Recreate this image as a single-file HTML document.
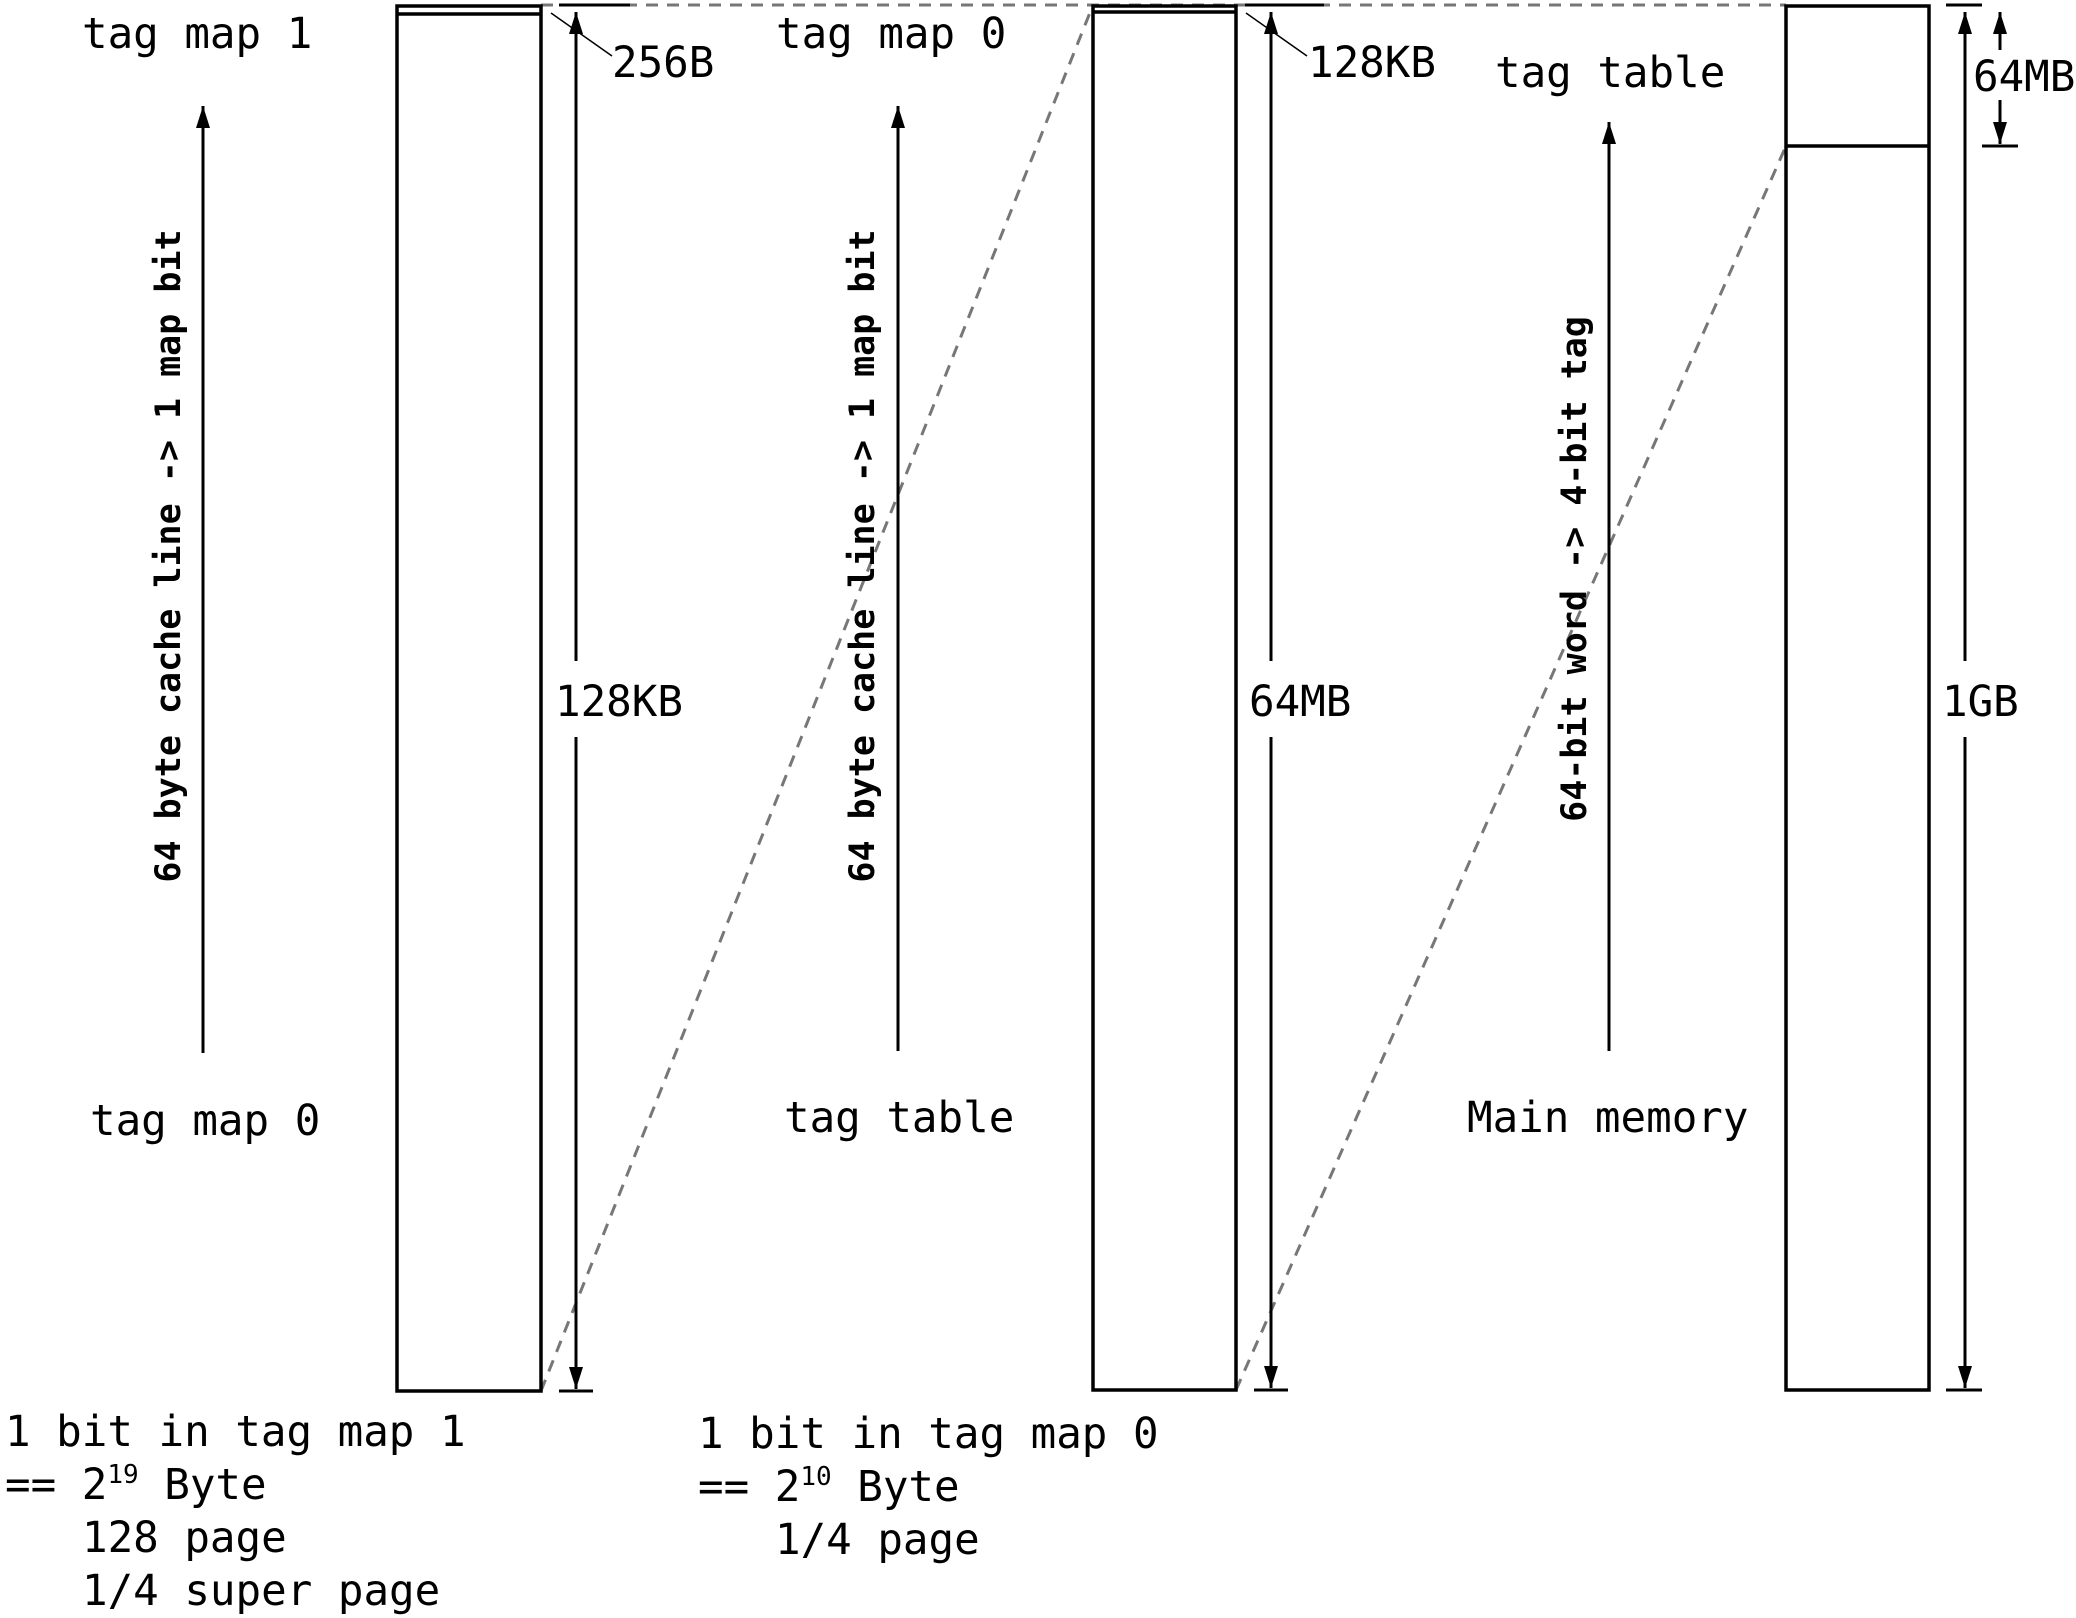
<!DOCTYPE html>
<html><head><meta charset="utf-8">
<style>html,body{margin:0;padding:0;background:#fff}svg{display:block}</style>
</head><body>
<svg width="2076" height="1618" viewBox="0 0 2076 1618" xmlns="http://www.w3.org/2000/svg">
<defs>
<marker id="ab" viewBox="0 0 22 14" markerWidth="22" markerHeight="14" refX="22" refY="7" orient="auto" markerUnits="userSpaceOnUse">
<path d="M0,0 L22,7 L0,14 z" fill="#000"/>
</marker>
</defs>
<g fill="none" stroke="#777" stroke-width="3" stroke-dasharray="12,9">
<line x1="541" y1="5" x2="1786" y2="5"/>
<line x1="541" y1="1391" x2="1093" y2="5"/>
<line x1="1236" y1="1390" x2="1786" y2="146"/>
</g>
<g fill="none" stroke="#000" stroke-width="3.5">
<rect x="397" y="6" width="144" height="1385" fill="#fff"/>
<line x1="397" y1="14" x2="541" y2="14"/>
<rect x="1093" y="6" width="143" height="1384" fill="#fff"/>
<line x1="1093" y1="12" x2="1236" y2="12"/>
<rect x="1786" y="6" width="143" height="1384" fill="#fff"/>
<line x1="1786" y1="146" x2="1929" y2="146"/>
</g>
<g stroke="#000" stroke-width="3">
<line x1="559" y1="5" x2="630" y2="5"/>
<line x1="559" y1="1391" x2="593" y2="1391"/>
<line x1="576" y1="661" x2="576" y2="12" marker-end="url(#ab)"/>
<line x1="576" y1="737" x2="576" y2="1389" marker-end="url(#ab)"/>
<line x1="1245" y1="5" x2="1324" y2="5"/>
<line x1="1254" y1="1390" x2="1288" y2="1390"/>
<line x1="1271" y1="661" x2="1271" y2="12" marker-end="url(#ab)"/>
<line x1="1271" y1="737" x2="1271" y2="1388" marker-end="url(#ab)"/>
<line x1="1946" y1="5" x2="1982" y2="5"/>
<line x1="1946" y1="1390" x2="1982" y2="1390"/>
<line x1="1965" y1="661" x2="1965" y2="12" marker-end="url(#ab)"/>
<line x1="1965" y1="737" x2="1965" y2="1388" marker-end="url(#ab)"/>
<line x1="1982" y1="146" x2="2018" y2="146"/>
<line x1="2000" y1="50" x2="2000" y2="12" marker-end="url(#ab)"/>
<line x1="2000" y1="100" x2="2000" y2="144" marker-end="url(#ab)"/>
<line x1="203" y1="1053" x2="203" y2="106" marker-end="url(#ab)"/>
<line x1="898" y1="1051" x2="898" y2="106" marker-end="url(#ab)"/>
<line x1="1609" y1="1051" x2="1609" y2="122" marker-end="url(#ab)"/>
</g>
<g stroke="#000" stroke-width="1.5">
<line x1="551" y1="13" x2="612" y2="56"/>
<line x1="1246" y1="13" x2="1307" y2="56"/>
</g>
<g font-family="'DejaVu Sans Mono','Liberation Mono',monospace" font-size="42.5" fill="#000">
<text x="82" y="48">tag map 1</text>
<text x="776" y="48">tag map 0</text>
<text x="1495" y="87">tag table</text>
<text x="90" y="1135">tag map 0</text>
<text x="784" y="1132">tag table</text>
<text x="1467" y="1132">Main memory</text>
<text x="612" y="77">256B</text>
<text x="1308" y="77">128KB</text>
<text x="1973" y="91">64MB</text>
<text x="555" y="716">128KB</text>
<text x="1249" y="716">64MB</text>
<text x="1942" y="716">1GB</text>
<text x="5" y="1446">1 bit in tag map 1</text>
<text x="5" y="1499">== 2<tspan font-size="26" dy="-16">19</tspan><tspan dy="16"> Byte</tspan></text>
<text x="82" y="1552">128 page</text>
<text x="82" y="1605">1/4 super page</text>
<text x="698" y="1448">1 bit in tag map 0</text>
<text x="698" y="1501">== 2<tspan font-size="26" dy="-16">10</tspan><tspan dy="16"> Byte</tspan></text>
<text x="775" y="1554">1/4 page</text>
</g>
<g font-family="'DejaVu Sans Mono','Liberation Mono',monospace" font-size="35" font-weight="bold" fill="#000" text-anchor="middle">
<text transform="translate(180,556) rotate(-90)">64 byte cache line -&gt; 1 map bit</text>
<text transform="translate(874,556) rotate(-90)">64 byte cache line -&gt; 1 map bit</text>
<text transform="translate(1586,569) rotate(-90)">64-bit word -&gt; 4-bit tag</text>
</g>
</svg>
</body></html>
